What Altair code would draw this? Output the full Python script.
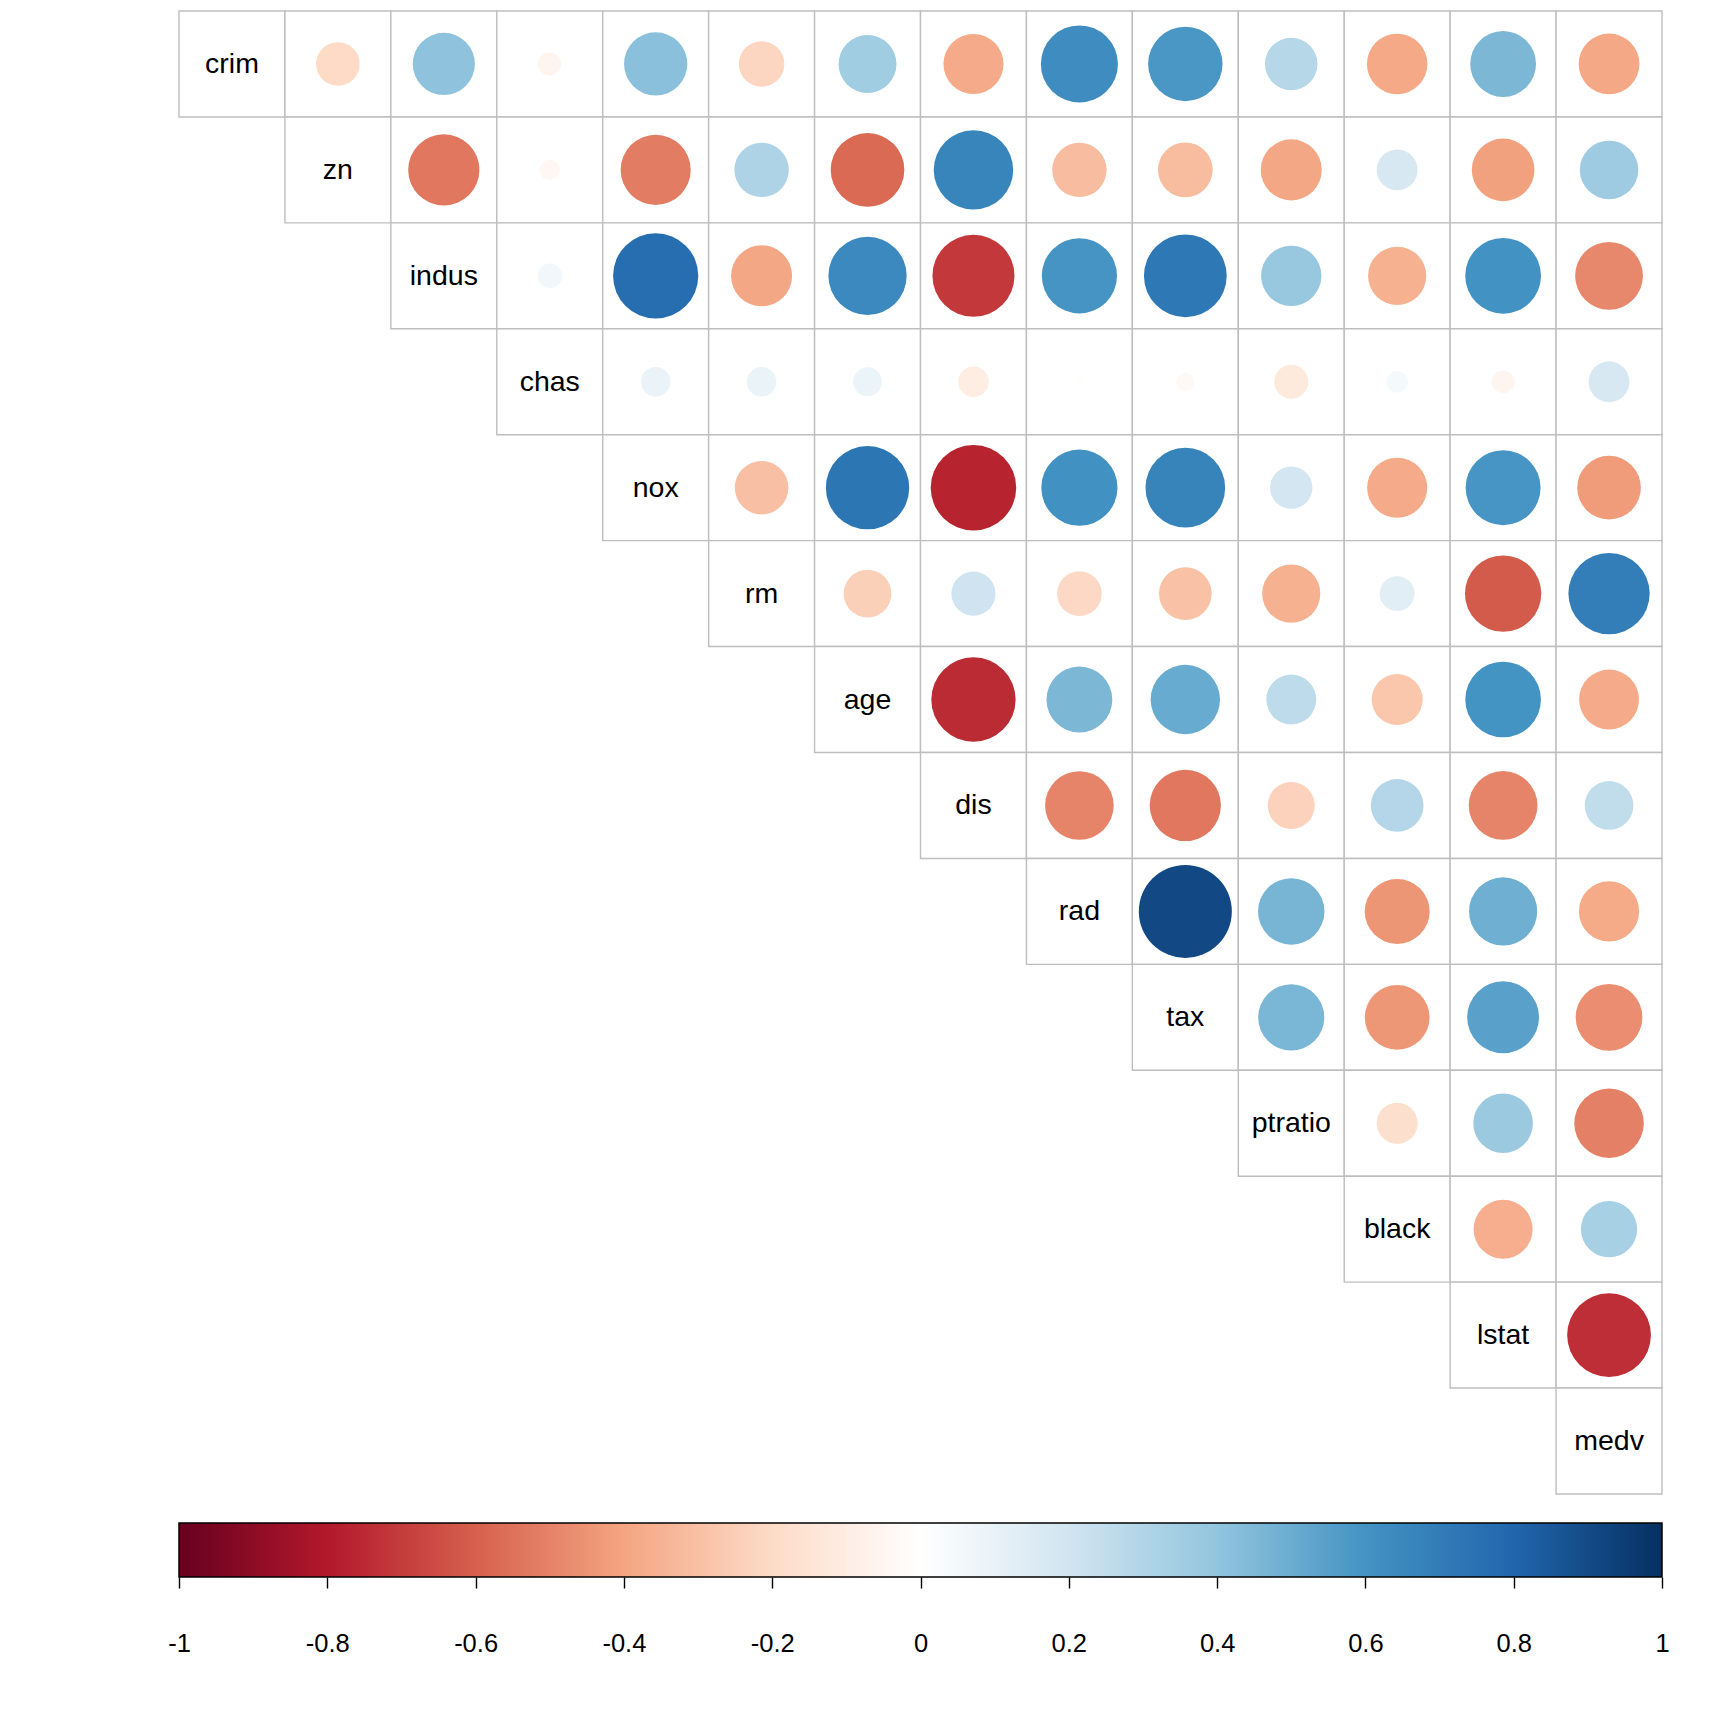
import altair as alt
import pandas as pd

variables = ["crim", "zn", "indus", "chas", "nox", "rm", "age", "dis",
             "rad", "tax", "ptratio", "black", "lstat", "medv"]

# Upper-triangle correlations, row by row (row i, columns i+1..13)
upper = [
    [-0.200, 0.407, -0.056, 0.421, -0.219, 0.353, -0.380, 0.626, 0.583, 0.290, -0.385, 0.456, -0.388],
    [-0.534, -0.043, -0.517, 0.312, -0.570, 0.664, -0.312, -0.315, -0.392, 0.176, -0.413, 0.360],
    [0.063, 0.764, -0.392, 0.645, -0.708, 0.595, 0.721, 0.383, -0.357, 0.604, -0.484],
    [0.091, 0.091, 0.087, -0.099, -0.007, -0.036, -0.122, 0.049, -0.054, 0.175],
    [-0.302, 0.731, -0.769, 0.611, 0.668, 0.189, -0.380, 0.591, -0.427],
    [-0.240, 0.205, -0.210, -0.292, -0.356, 0.128, -0.614, 0.695],
    [-0.748, 0.456, 0.506, 0.262, -0.274, 0.602, -0.377],
    [-0.495, -0.534, -0.232, 0.292, -0.497, 0.250],
    [0.910, 0.465, -0.444, 0.489, -0.382],
    [0.461, -0.442, 0.544, -0.469],
    [-0.177, 0.374, -0.508],
    [-0.366, 0.333],
    [-0.738],
    [],
]

palette = ["#67001F", "#B2182B", "#D6604D", "#F4A582", "#FDDBC7", "#FFFFFF",
           "#D1E5F0", "#92C5DE", "#4393C3", "#2166AC", "#053061"]
palette_domain = [-1, -0.8, -0.6, -0.4, -0.2, 0, 0.2, 0.4, 0.6, 0.8, 1]
tick_values = [-1, -0.8, -0.6, -0.4, -0.2, 0, 0.2, 0.4, 0.6, 0.8, 1]

cell_rows = []
circle_rows = []
for i, rv in enumerate(variables):
    cell_rows.append({"row": rv, "col": rv, "label": rv})
    for k, r in enumerate(upper[i]):
        cv = variables[i + 1 + k]
        cell_rows.append({"row": rv, "col": cv, "label": ""})
        circle_rows.append({"row": rv, "col": cv, "r": r, "absr": abs(r)})

cells = pd.DataFrame(cell_rows)
circles = pd.DataFrame(circle_rows)
labels = cells[cells["label"] != ""]

FONT = "Liberation Sans"
W = 1483

xs = alt.X("col:N", axis=None, sort=variables,
           scale=alt.Scale(domain=variables, paddingInner=0, paddingOuter=0))
ys = alt.Y("row:N", axis=None, sort=variables,
           scale=alt.Scale(domain=variables, paddingInner=0, paddingOuter=0))

color_scale = alt.Scale(domain=palette_domain, range=palette, interpolate="rgb")

grid = alt.Chart(cells).mark_rect(fill="white", stroke="#BEBEBE", strokeWidth=1.4).encode(x=xs, y=ys)

dots = alt.Chart(circles).mark_circle(opacity=1, strokeWidth=0).encode(
    x=xs, y=ys,
    size=alt.Size("absr:Q", scale=alt.Scale(domain=[0, 1], range=[0, 9506], zero=True), legend=None),
    color=alt.Color("r:Q", scale=color_scale, legend=None),
)

text = alt.Chart(labels).mark_text(fontSize=28.5, font=FONT, color="black", baseline="middle").encode(
    x=xs, y=ys, text="label:N"
)

main = alt.layer(grid, dots, text).properties(width=W, height=W)

gradient = alt.LinearGradient(
    gradient="linear",
    stops=[alt.GradientStop(color=c, offset=(v + 1) / 2) for c, v in zip(palette, palette_domain)],
    x1=0, x2=1, y1=0, y2=0,
)

bar_df = pd.DataFrame({"lo": [-1], "hi": [1]})
colorbar = alt.Chart(bar_df).mark_rect(fill=gradient, stroke="black", strokeWidth=1.5).encode(
    x=alt.X("lo:Q", scale=alt.Scale(domain=[-1, 1], nice=False, zero=False),
            axis=alt.Axis(values=tick_values, labelExpr="'' + datum.value", title=None,
                          grid=False, domain=False, ticks=True, tickSize=11, tickColor="black",
                          tickWidth=1.4, labelPadding=43, labelFontSize=25.5, labelFont=FONT,
                          labelColor="black", labelFlush=False, labelOverlap=False)),
    x2="hi:Q",
    y=alt.value(0),
    y2=alt.value(54),
).properties(width=W, height=54)

chart = alt.vconcat(main, colorbar, spacing=27).properties(
    padding={"left": 159, "top": 2, "right": 10, "bottom": 10}
).configure_view(stroke=None)

chart.save("out.html", embed_options={"renderer": "svg", "actions": False})
